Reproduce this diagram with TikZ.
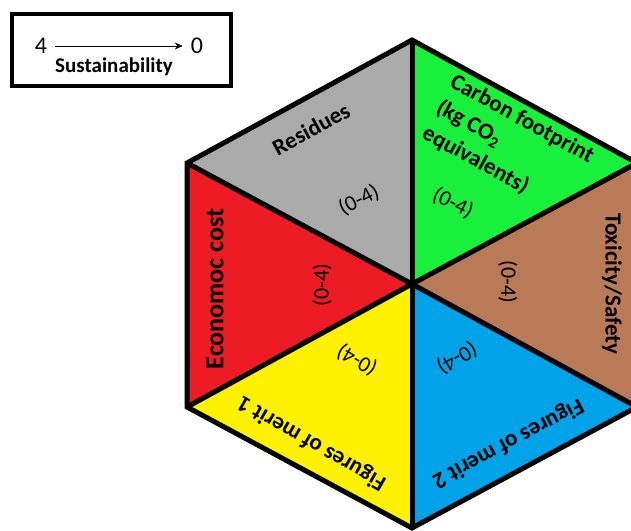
\documentclass[tikz,border=0pt]{standalone}
\usepackage{fontspec}
\setmainfont{Carlito}
\usetikzlibrary{arrows.meta}

\definecolor{segGray}{RGB}{170,170,170}
\definecolor{segGreen}{RGB}{25,240,60}
\definecolor{segBrown}{RGB}{185,122,87}
\definecolor{segBlue}{RGB}{0,162,232}
\definecolor{segYellow}{RGB}{255,242,0}
\definecolor{segRed}{RGB}{237,28,36}

\tikzset{
  hexline/.style={line width=5, line join=miter},
  lbl/.style={font=\fontsize{23}{24}\selectfont\bfseries, inner sep=0},
  rng/.style={font=\fontsize{22}{24}\selectfont, inner sep=0},
  num/.style={font=\fontsize{24}{26}\selectfont, inner sep=3},
}

\begin{document}
\begin{tikzpicture}[x=1pt,y=-1pt]
\useasboundingbox (0,0) rectangle (631,530);
\clip (0,0) rectangle (631,530);

% hexagon corners and centre
\coordinate (T)  at (412,40);
\coordinate (UL) at (187,163);
\coordinate (UR) at (637,163);
\coordinate (C)  at (412,284);
\coordinate (LL) at (187,407);
\coordinate (LR) at (637,407);
\coordinate (B)  at (412,528);

% coloured sectors
\fill[segGray]   (T)  -- (UL) -- (C) -- cycle;
\fill[segGreen]  (T)  -- (UR) -- (C) -- cycle;
\fill[segBrown]  (UR) -- (LR) -- (C) -- cycle;
\fill[segBlue]   (LR) -- (B)  -- (C) -- cycle;
\fill[segYellow] (B)  -- (LL) -- (C) -- cycle;
\fill[segRed]    (LL) -- (UL) -- (C) -- cycle;

% spokes and outline
\draw[hexline] (C) -- (T);
\draw[hexline] (C) -- (UL);
\draw[hexline] (C) -- (UR);
\draw[hexline] (C) -- (LL);
\draw[hexline] (C) -- (LR);
\draw[hexline] (C) -- (B);
\draw[hexline] (T) -- (UR) -- (LR) -- (B) -- (LL) -- (UL) -- cycle;

% sector titles
\node[lbl, rotate=28.7] (residues) at (311,129) {Residues};
\node[lbl, rotate=-28.7, align=left, font=\fontsize{23}{29}\selectfont\bfseries] (carbon) at (508,145)
  {Carbon footprint\\(kg CO\textsubscript{2}\\equivalents)};
\node[lbl, rotate=-90] (toxicity) at (612,284) {Toxicity/Safety};
\node[lbl, rotate=90, font=\fontsize{26}{27}\selectfont\bfseries] (economic) at (215,289) {Economoc cost};
\node[lbl, rotate=150] (merit1) at (312,443) {Figures of merit 1};
\node[lbl, rotate=-152] (merit2) at (508,443) {Figures of merit 2};

% score ranges
\node[rng, rotate=27.5]  (rgray)   at (359,200) {(0-4)};
\node[rng, rotate=-26.6] (rgreen)  at (453,203) {(0-4)};
\node[rng, rotate=-90]   (rbrown)  at (508,282) {(0-4)};
\node[rng, rotate=90]    (rred)    at (322,285) {(0-4)};
\node[rng, rotate=150]   (ryellow) at (357,360) {(0-4)};
\node[rng, rotate=-150]  (rblue)   at (457,358) {(0-4)};

% legend box
\node[draw, line width=4, minimum width=219, minimum height=72, inner sep=0] (legend) at (121.5,50) {};
\node[num] (four) at (41,46) {4};
\node[num] (zero) at (197,46) {0};
\draw[-{Stealth[length=8,width=7]}, line width=0.8, shorten <=5, shorten >=5] (four) -- (zero);
\node[font=\fontsize{21}{22}\selectfont\bfseries, inner sep=0] (sustain) at (114,67) {Sustainability};
\end{tikzpicture}
\end{document}
